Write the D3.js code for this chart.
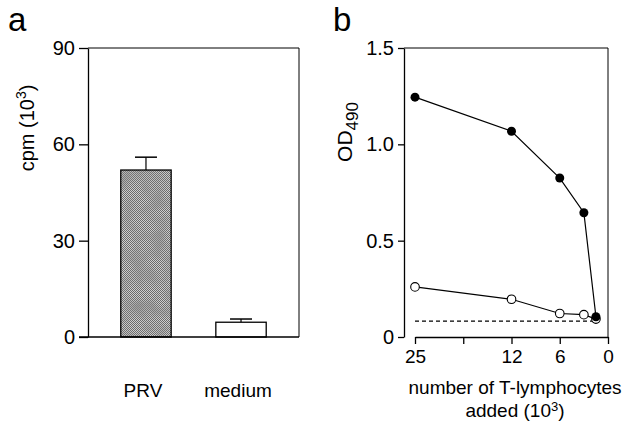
<!DOCTYPE html>
<html>
<head>
<meta charset="utf-8">
<script src="https://cdn.jsdelivr.net/npm/d3@7/dist/d3.min.js"></script>
<style>
  body { margin: 0; background: #fff; }
  svg text { font-family: "Liberation Sans", Arial, Helvetica, sans-serif; fill: #000; }
</style>
</head>
<body>
<div id="chart"></div>
<script>
// panel a: proliferation
var barCategories = ["PRV", "medium"];
var barValues = [52, 4.6];
var barErrors = [4, 1];
var cpmTicks = [0, 30, 60, 90];

// panel b: OD490 vs number of T-lymphocytes added (10^3)
var cellsAdded = [25, 12.5, 6.25, 3.125, 1.5625];
var odFilled = [1.245, 1.068, 0.825, 0.645, 0.105];
var odOpen = [0.26, 0.196, 0.122, 0.116, 0.093];
var odBackground = 0.082;
var odTicks = [0, 0.5, 1.0, 1.5];
var cellTicks = [25, 18.75, 12.5, 6.25, 0];
var cellTickLabels = ["25", "", "12", "6", "0"];

var width = 626, height = 423;
var svg = d3.select("#chart").append("svg")
  .attr("width", width)
  .attr("height", height);

// stippled fill for the PRV bar (1px checker + soft mottling)
var defs = svg.append("defs");
var pattern = defs.append("pattern")
  .attr("id", "stipple")
  .attr("patternUnits", "userSpaceOnUse")
  .attr("width", 2)
  .attr("height", 2);
pattern.append("rect").attr("width", 2).attr("height", 2).attr("fill", "#cfcfcf");
pattern.append("rect").attr("x", 0).attr("y", 0).attr("width", 1).attr("height", 1).attr("fill", "#6a6a6a");
pattern.append("rect").attr("x", 1).attr("y", 1).attr("width", 1).attr("height", 1).attr("fill", "#6a6a6a");

var mottle = defs.append("filter")
  .attr("id", "mottle")
  .attr("x", 0).attr("y", 0).attr("width", 1).attr("height", 1);
mottle.append("feTurbulence")
  .attr("type", "fractalNoise")
  .attr("baseFrequency", 0.06)
  .attr("numOctaves", 2)
  .attr("seed", 4);
mottle.append("feColorMatrix")
  .attr("type", "matrix")
  .attr("values", "0 0 0 0 0.25  0 0 0 0 0.25  0 0 0 0 0.25  1.4 0 0 0 -0.55");
mottle.append("feComposite").attr("in2", "SourceGraphic").attr("operator", "in");

function styleAxis(g, size) {
  g.attr("font-family", null).attr("font-size", null);
  g.selectAll("text").style("font-size", size + "px");
  g.selectAll("path, line").attr("stroke", "#000").attr("stroke-width", 1.3);
}

// ---------- panel a ----------
var aLeft = 88, aRight = 299, aTop = 48, aBottom = 337;

var yA = d3.scaleLinear().domain([0, 90]).range([aBottom, aTop]);
var xA = d3.scaleBand()
  .domain(barCategories)
  .range([aLeft, aRight])
  .paddingInner(0.47)
  .paddingOuter(0.345);

var panelA = svg.append("g");

// frame (top + right)
panelA.append("path")
  .attr("d", "M" + aLeft + "," + aTop + "H" + aRight + "V" + aBottom)
  .attr("fill", "none")
  .attr("stroke", "#000")
  .attr("stroke-width", 1);

// error bars
barCategories.forEach(function (c, i) {
  var cx = xA(c) + xA.bandwidth() / 2;
  panelA.append("line")
    .attr("x1", cx).attr("x2", cx)
    .attr("y1", yA(barValues[i])).attr("y2", yA(barValues[i] + barErrors[i]))
    .attr("stroke", "#000").attr("stroke-width", 1.2);
  panelA.append("line")
    .attr("x1", cx - 11).attr("x2", cx + 11)
    .attr("y1", yA(barValues[i] + barErrors[i])).attr("y2", yA(barValues[i] + barErrors[i]))
    .attr("stroke", "#000").attr("stroke-width", 1.5);
});

var bars = panelA.selectAll("g.bar")
  .data(barValues)
  .enter()
  .append("g")
  .attr("class", "bar");

bars.append("rect")
  .attr("x", function (d, i) { return xA(barCategories[i]); })
  .attr("y", function (d) { return yA(d); })
  .attr("width", xA.bandwidth())
  .attr("height", function (d) { return aBottom - yA(d); })
  .attr("fill", function (d, i) { return i === 0 ? "url(#stipple)" : "#fff"; })
  .attr("stroke", "#000")
  .attr("stroke-width", 1.3);

bars.filter(function (d, i) { return i === 0; })
  .append("rect")
  .attr("x", function (d, i) { return xA(barCategories[0]) + 1; })
  .attr("y", function (d) { return yA(d) + 1; })
  .attr("width", xA.bandwidth() - 2)
  .attr("height", function (d) { return aBottom - yA(d) - 2; })
  .attr("fill", "#000")
  .attr("filter", "url(#mottle)");

// baseline
panelA.append("line")
  .attr("x1", aLeft - 9).attr("x2", aRight)
  .attr("y1", aBottom).attr("y2", aBottom)
  .attr("stroke", "#000").attr("stroke-width", 1.3);

var axisA = panelA.append("g")
  .attr("transform", "translate(" + aLeft + ",0)")
  .call(d3.axisLeft(yA).tickValues(cpmTicks).tickSize(9).tickSizeOuter(0).tickPadding(4));
styleAxis(axisA, 20);

// category labels
panelA.selectAll("text.cat")
  .data(barCategories)
  .enter()
  .append("text")
  .attr("class", "cat")
  .attr("x", function (d) { return xA(d) + xA.bandwidth() / 2 - 3; })
  .attr("y", 397)
  .attr("text-anchor", "middle")
  .style("font-size", "19px")
  .text(function (d) { return d; });

// y title
var yTitleA = panelA.append("text")
  .attr("transform", "translate(34,128) rotate(-90)")
  .attr("text-anchor", "middle")
  .style("font-size", "20px");
yTitleA.append("tspan").text("cpm (10");
yTitleA.append("tspan").attr("dy", -8).style("font-size", "14px").text("3");
yTitleA.append("tspan").attr("dy", 8).text(")");

svg.append("text")
  .attr("x", 8).attr("y", 31)
  .style("font-size", "33px")
  .text("a");

// ---------- panel b ----------
var bLeft = 404, bRight = 608, bTop = 48, bBottom = 337;

var yB = d3.scaleLinear().domain([0, 1.5]).range([bBottom, bTop]);
var xB = d3.scaleLinear().domain([25, 0]).range([415, bRight]);

var panelB = svg.append("g");

panelB.append("path")
  .attr("d", "M" + bLeft + "," + bTop + "H" + bRight + "V" + bBottom)
  .attr("fill", "none")
  .attr("stroke", "#000")
  .attr("stroke-width", 1);

var axisBy = panelB.append("g")
  .attr("transform", "translate(" + bLeft + ",0)")
  .call(d3.axisLeft(yB).tickValues(odTicks).tickSize(6).tickSizeOuter(0).tickPadding(4)
    .tickFormat(function (d) { return d === 0 ? "0" : d3.format(".1f")(d); }));
styleAxis(axisBy, 20);

var axisBx = panelB.append("g")
  .attr("transform", "translate(0," + bBottom + ")")
  .call(d3.axisBottom(xB).tickValues(cellTicks).tickSize(7).tickSizeOuter(0).tickPadding(6)
    .tickFormat(function (d, i) { return cellTickLabels[i]; }));
styleAxis(axisBx, 19);

// background (dashed)
panelB.append("line")
  .attr("x1", xB(cellsAdded[0])).attr("x2", xB(cellsAdded[cellsAdded.length - 1]) - 2)
  .attr("y1", yB(odBackground)).attr("y2", yB(odBackground))
  .attr("stroke", "#000").attr("stroke-width", 1.2)
  .attr("stroke-dasharray", "4,3");

var line = d3.line()
  .x(function (d, i) { return xB(cellsAdded[i]); })
  .y(function (d) { return yB(d); });

panelB.append("path")
  .datum(odOpen)
  .attr("d", line)
  .attr("fill", "none").attr("stroke", "#000").attr("stroke-width", 1.2);

panelB.selectAll("circle.open")
  .data(odOpen)
  .enter()
  .append("circle")
  .attr("class", "open")
  .attr("cx", function (d, i) { return xB(cellsAdded[i]); })
  .attr("cy", function (d) { return yB(d); })
  .attr("r", 4.3)
  .attr("fill", "#fff").attr("stroke", "#000").attr("stroke-width", 1.1);

panelB.append("path")
  .datum(odFilled)
  .attr("d", line)
  .attr("fill", "none").attr("stroke", "#000").attr("stroke-width", 1.2);

panelB.selectAll("circle.filled")
  .data(odFilled)
  .enter()
  .append("circle")
  .attr("class", "filled")
  .attr("cx", function (d, i) { return xB(cellsAdded[i]); })
  .attr("cy", function (d) { return yB(d); })
  .attr("r", 4.5)
  .attr("fill", "#000");

// titles
var yTitleB = panelB.append("text")
  .attr("transform", "translate(352,132) rotate(-90)")
  .attr("text-anchor", "middle")
  .style("font-size", "21px");
yTitleB.append("tspan").text("OD");
yTitleB.append("tspan").attr("dy", 6).style("font-size", "17px").text("490");

panelB.append("text")
  .attr("x", 515).attr("y", 394)
  .attr("text-anchor", "middle")
  .style("font-size", "19px")
  .text("number of T-lymphocytes");

var xTitle2 = panelB.append("text")
  .attr("x", 515).attr("y", 417)
  .attr("text-anchor", "middle")
  .style("font-size", "19px");
xTitle2.append("tspan").text("added (10");
xTitle2.append("tspan").attr("dy", -6).style("font-size", "13px").text("3");
xTitle2.append("tspan").attr("dy", 6).text(")");

svg.append("text")
  .attr("x", 333).attr("y", 31)
  .style("font-size", "33px")
  .text("b");
</script>
</body>
</html>
